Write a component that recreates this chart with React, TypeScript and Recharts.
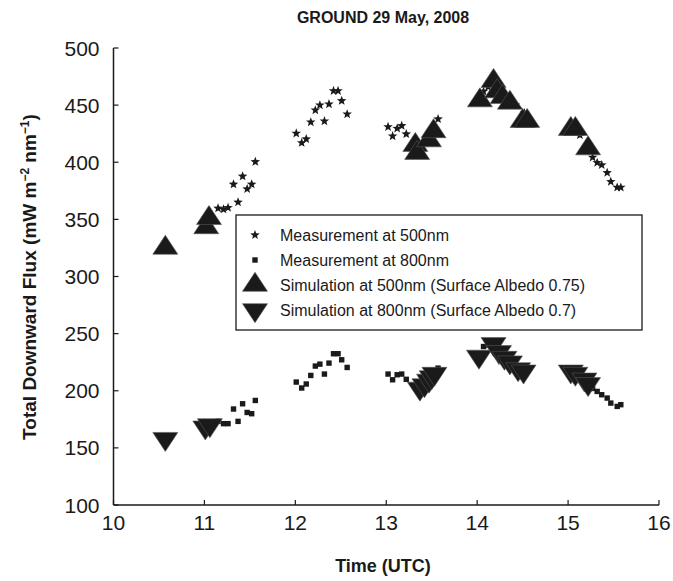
import { Scatter, ScatterChart, XAxis, YAxis } from "recharts";

// measurement times (UTC hours), shared by the 500nm and 800nm readings
const measTime = [
  11.15, 11.21, 11.26, 11.32, 11.37, 11.42, 11.47, 11.52, 11.56,
  12.01, 12.07, 12.12, 12.17, 12.22, 12.27, 12.32, 12.37, 12.42, 12.47, 12.51, 12.57,
  13.02, 13.07, 13.12, 13.17, 13.22, 13.57,
  14.07, 14.12, 14.22, 14.32, 14.42, 14.52,
  15.13, 15.22, 15.27, 15.32, 15.37, 15.43, 15.47, 15.54, 15.58,
];
const meas500 = [
  359.7, 358.8, 360.2, 380.7, 365, 387.7, 376.6, 380.7, 400.4,
  425.3, 417, 420.3, 435.1, 445.6, 450, 436, 450.9, 462.5, 462.5, 453.8, 442.1,
  431, 422.9, 429.6, 431.9, 424.7, 437.8,
  462, 466, 466, 458, 450, 443,
  423.8, 415, 404.3, 399.6, 397.6, 390.8, 383, 378, 378,
];
const meas800 = [
  173.2, 171.2, 171.2, 184, 173.2, 188.6, 181, 179.9, 191.5,
  207.6, 202.4, 205.9, 213.4, 221.6, 223.3, 214.6, 224.2, 232.4, 232.4, 227.1, 220.4,
  214.6, 209.6, 214, 214.6, 210, 219.8,
  238.7, 240, 236, 230, 224, 219,
  210, 205, 202, 199.4, 196.5, 193.6, 189.2, 186.3, 187.8,
];

const sim500Time = [10.57, 11.02, 11.05, 13.32, 13.34, 13.47, 13.52, 14.03, 14.18, 14.22, 14.28, 14.36, 14.5, 14.55, 15.03, 15.08, 15.22];
const sim500Flux = [325, 343, 351, 415, 408, 419, 427, 454, 471, 462, 457, 452, 436, 436, 429, 429, 412];

const sim800Time = [10.57, 11.01, 11.06, 13.37, 13.42, 13.47, 13.5, 13.53, 14.02, 14.18, 14.24, 14.3, 14.36, 14.45, 14.51, 15.03, 15.08, 15.18, 15.22];
const sim800Flux = [158, 168, 170, 202, 205, 209, 212, 215, 230, 241, 234, 229, 225, 219, 217, 217, 215, 210, 206];

const xTicks = [10, 11, 12, 13, 14, 15, 16];
const yTicks = [100, 150, 200, 250, 300, 350, 400, 450, 500];

const INK = "#1a1a1a";
const FONT = "'Liberation Sans', Arial, sans-serif";

const pair = (xs: number[], ys: number[]) => xs.map((x, i) => ({ x, y: ys[i] }));

// ─── marker shapes ────────────────────────────────────────────────────────

function Star({ cx, cy }: any) {
  const pts: string[] = [];
  for (let i = 0; i < 10; i++) {
    const r = i % 2 === 0 ? 5 : 2.1;
    const a = -Math.PI / 2 + (i * Math.PI) / 5;
    pts.push(`${cx + r * Math.cos(a)},${cy + r * Math.sin(a)}`);
  }
  return <polygon points={pts.join(" ")} fill={INK} />;
}

function Square({ cx, cy }: any) {
  return <rect x={cx - 2.7} y={cy - 2.7} width={5.4} height={5.4} fill={INK} />;
}

function TriUp({ cx, cy }: any) {
  return (
    <polygon
      points={`${cx},${cy - 12.7} ${cx - 12.5},${cy + 6.3} ${cx + 12.5},${cy + 6.3}`}
      fill={INK}
      stroke="#555"
      strokeWidth={0.6}
    />
  );
}

function TriDown({ cx, cy }: any) {
  return (
    <polygon
      points={`${cx},${cy + 12.7} ${cx - 12.5},${cy - 6.3} ${cx + 12.5},${cy - 6.3}`}
      fill={INK}
      stroke="#555"
      strokeWidth={0.6}
    />
  );
}

// ─── inward ticks ─────────────────────────────────────────────────────────

function XTick({ x, y, payload }: any) {
  return (
    <g>
      <line x1={x} y1={y} x2={x} y2={y - 5} stroke={INK} strokeWidth={1.2} />
      <text x={x} y={y + 25} textAnchor="middle" fontSize={21} fill={INK} fontFamily={FONT}>
        {payload.value}
      </text>
    </g>
  );
}

function YTick({ x, y, payload }: any) {
  return (
    <g>
      <line x1={x} y1={y} x2={x + 5} y2={y} stroke={INK} strokeWidth={1.2} />
      <text x={x - 14} y={y + 7.5} textAnchor="end" fontSize={21} fill={INK} fontFamily={FONT}>
        {payload.value}
      </text>
    </g>
  );
}

const legendRows = [
  { label: "Measurement at 500nm", Shape: Star },
  { label: "Measurement at 800nm", Shape: Square },
  { label: "Simulation at 500nm (Surface Albedo 0.75)", Shape: TriUp },
  { label: "Simulation at 800nm (Surface Albedo 0.7)", Shape: TriDown },
];

export default function App() {
  return (
    <div style={{ position: "absolute", left: 0, top: 0, width: 673, height: 581, background: "#fff" }}>
      <ScatterChart width={673} height={581} margin={{ top: 48, right: 14, bottom: 0, left: 0 }}>
        <XAxis
          type="number"
          dataKey="x"
          domain={[10, 16]}
          ticks={xTicks}
          height={76}
          tickSize={0}
          tickMargin={0}
          tick={<XTick />}
          axisLine={{ stroke: INK, strokeWidth: 1.5 }}
        />
        <YAxis
          type="number"
          dataKey="y"
          domain={[100, 500]}
          ticks={yTicks}
          width={113.5}
          tickSize={0}
          tickMargin={0}
          tick={<YTick />}
          axisLine={{ stroke: INK, strokeWidth: 1.5 }}
        />
        <Scatter data={pair(measTime, meas500)} shape={<Star />} isAnimationActive={false} />
        <Scatter data={pair(measTime, meas800)} shape={<Square />} isAnimationActive={false} />
        <Scatter data={pair(sim500Time, sim500Flux)} shape={<TriUp />} isAnimationActive={false} />
        <Scatter data={pair(sim800Time, sim800Flux)} shape={<TriDown />} isAnimationActive={false} />
      </ScatterChart>

      <svg
        width={673}
        height={581}
        style={{ position: "absolute", left: 0, top: 0, pointerEvents: "none" }}
        fontFamily={FONT}
      >
        <text x={383} y={23} textAnchor="middle" fontSize={16} fontWeight="bold" fill={INK}>
          GROUND 29 May, 2008
        </text>
        <text x={383} y={572} textAnchor="middle" fontSize={18} fontWeight="bold" fill={INK}>
          Time (UTC)
        </text>
        <text
          transform="translate(36,277) rotate(-90)"
          textAnchor="middle"
          fontSize={19}
          fontWeight="bold"
          fill={INK}
        >
          Total Downward Flux (mW m
          <tspan dy={-7} fontSize={12}>−2</tspan>
          <tspan dy={7}> nm</tspan>
          <tspan dy={-7} fontSize={12}>−1</tspan>
          <tspan dy={7}>)</tspan>
        </text>

        <rect x={236} y={215} width={406} height={115} fill="#fff" stroke={INK} strokeWidth={1.3} />
        {legendRows.map((r, i) => (
          <g key={r.label}>
            <r.Shape cx={255} cy={235 + i * 25} />
            <text x={280} y={241 + i * 25} fontSize={16} fill={INK}>
              {r.label}
            </text>
          </g>
        ))}
      </svg>
    </div>
  );
}
